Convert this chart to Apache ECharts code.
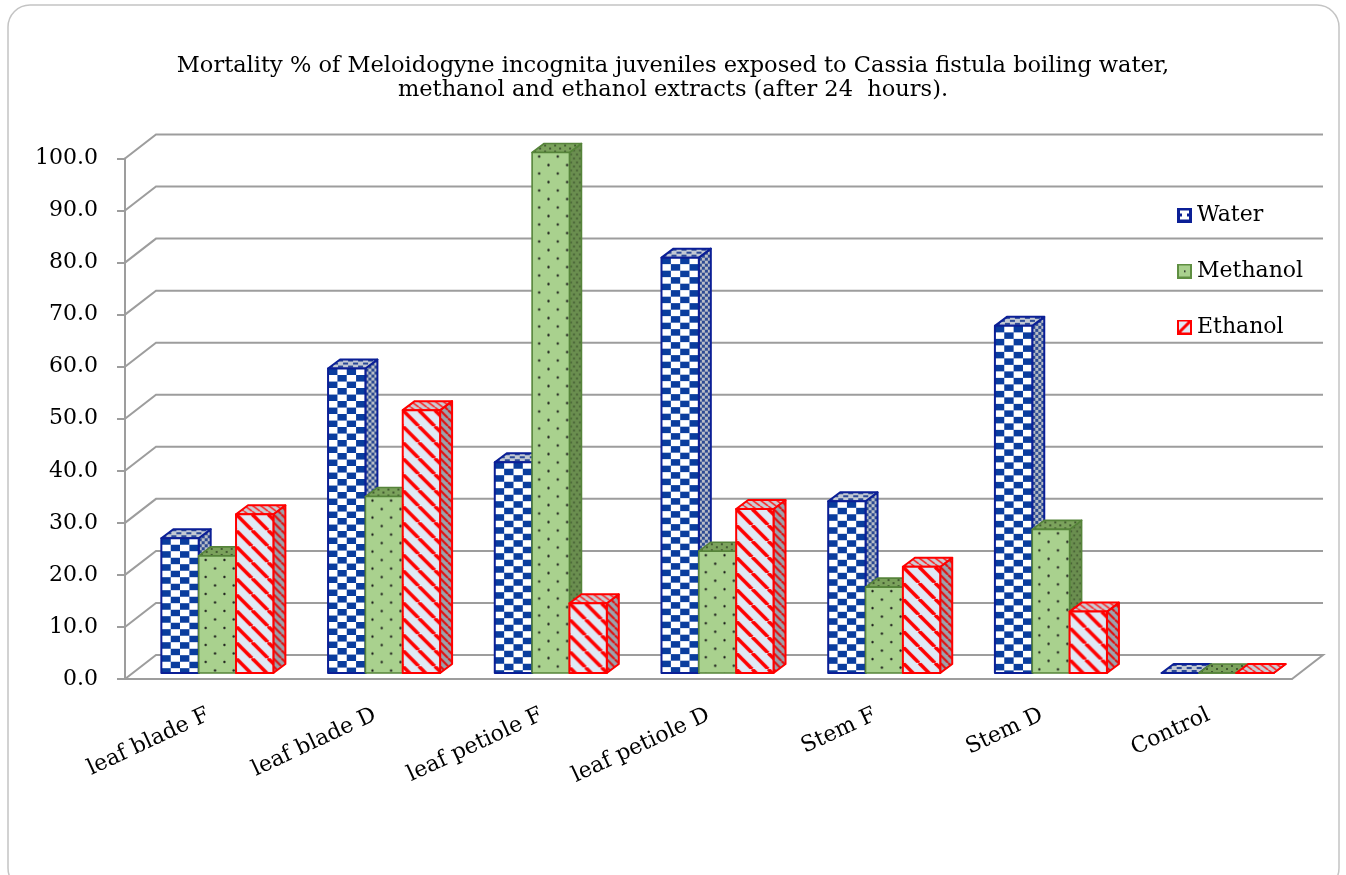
<!DOCTYPE html>
<html>
<head>
<meta charset="utf-8">
<script src="https://cdn.jsdelivr.net/npm/echarts@6/dist/echarts.min.js"></script>
<style>
  html, body { margin: 0; padding: 0; background: #ffffff; }
  #chart { width: 1346px; height: 875px; }
</style>
</head>
<body>
<div id="chart"></div>
<script>
// Mortality (%) per plant part and extract
const categories = ['leaf blade F', 'leaf blade D', 'leaf petiole F', 'leaf petiole D', 'Stem F', 'Stem D', 'Control'];
const water    = [25.9, 58.5, 40.5, 79.8, 33.0, 66.7, 0];
const methanol = [22.5, 33.9, 100.0, 23.4, 16.5, 27.6, 0];
const ethanol  = [30.5, 50.5, 13.4, 31.5, 20.4, 11.8, 0];
const seriesNames = ['Water', 'Methanol', 'Ethanol'];
const yTicks = [0, 10, 20, 30, 40, 50, 60, 70, 80, 90, 100];

// 3D look: wall depth and bar depth offsets (pixels)
const WALL_DX = 31, WALL_DY = 24;
const FRONT_DX = 9, FRONT_DY = 6;
const BAR_DX = 12, BAR_DY = 9;
const BAR_RATIO = 0.224;
const GRID_COLOR = '#9d9d9d';
const FONT = 'DejaVu Serif';

function tile(w, h, draw) {
  const c = document.createElement('canvas');
  c.width = w; c.height = h;
  const g = c.getContext('2d');
  draw(g, w, h);
  return c;
}
function stripes(g, w, h, bg, fg, lw) {
  g.fillStyle = bg; g.fillRect(0, 0, w, h);
  g.strokeStyle = fg; g.lineWidth = lw;
  for (let k = -w; k <= w; k += w) {
    g.beginPath(); g.moveTo(k, 0); g.lineTo(k + w, h); g.stroke();
  }
}
function dots(g, w, h, bg, fg, pts, r) {
  g.fillStyle = bg; g.fillRect(0, 0, w, h);
  g.fillStyle = fg;
  pts.forEach(p => { g.beginPath(); g.arc(p[0], p[1], r, 0, Math.PI * 2); g.fill(); });
}
function checker(g, w, h, a, b) {
  g.fillStyle = a; g.fillRect(0, 0, w, h);
  g.fillStyle = b;
  g.fillRect(0, 0, w / 2, h / 2);
  g.fillRect(w / 2, h / 2, w / 2, h / 2);
}

const tiles = {
  Water: {
    front: tile(20, 14, (g, w, h) => checker(g, w, h, '#ffffff', '#0a3d9e')),
    side: tile(6, 6, (g, w, h) => checker(g, w, h, '#b9bec7', '#2c4a92')),
    top: tile(10, 6, (g, w, h) => { g.fillStyle = '#c3c9d3'; g.fillRect(0, 0, w, h); g.fillStyle = '#2c4a98'; g.fillRect(0, 0, 5, 2); g.fillRect(5, 3, 5, 2); }),
    border: '#0b1f96', lw: 2
  },
  Methanol: {
    front: tile(20, 17, (g, w, h) => dots(g, w, h, '#a9d18e', '#1a1a1a', [[7.5, 4], [17.5, 12.5]], 1.2)),
    side: tile(6, 8, (g, w, h) => dots(g, w, h, '#6a8e4f', '#26351c', [[1.5, 2], [4.5, 6]], 0.8)),
    top: tile(10, 6, (g, w, h) => dots(g, w, h, '#7ba25c', '#2a3a20', [[3, 2], [8, 5]], 0.9)),
    border: '#56843a', lw: 1.6
  },
  Ethanol: {
    front: tile(16, 16, (g, w, h) => stripes(g, w, h, '#dfe9f5', '#ff0000', 3.6)),
    side: tile(8, 8, (g, w, h) => stripes(g, w, h, '#9ba3ad', '#e01010', 2.2)),
    top: tile(8, 6, (g, w, h) => stripes(g, w, h, '#c9ced6', '#ff2020', 1.6)),
    border: '#ff0000', lw: 2
  }
};

function pat(canvas, x, y, sx, sy) {
  return { image: canvas, repeat: 'repeat', x: x, y: y, scaleX: sx || 1, scaleY: sy || 1 };
}

function barRenderer(name, sIdx) {
  const t = tiles[name];
  return function (params, api) {
    const i = api.value(0), v = api.value(1);
    const base = api.coord([i, 0]);
    const topPt = api.coord([i, v]);
    const band = api.size([1, 0])[0];
    const bw = band * BAR_RATIO;
    const x0 = base[0] - 1.5 * bw + sIdx * bw + FRONT_DX;
    const x1 = x0 + bw;
    const yb = base[1] - FRONT_DY;
    const yt = topPt[1] - FRONT_DY;
    let frontFill;
    if (name === 'Water') frontFill = pat(t.front, x0, yt, (bw / 4) / 10, 6.5 / 7);
    else if (name === 'Methanol') frontFill = pat(t.front, x0, yt, bw / 40, 1);
    else frontFill = pat(t.front, x0, yt, 1, 1);
    const stroke = { stroke: t.border, lineWidth: t.lw, lineJoin: 'round' };
    return {
      type: 'group',
      children: [
        { type: 'polygon', shape: { points: [[x1, yt], [x1 + BAR_DX, yt - BAR_DY], [x1 + BAR_DX, yb - BAR_DY], [x1, yb]] },
          style: Object.assign({ fill: pat(t.side, x1, yt) }, stroke) },
        { type: 'polygon', shape: { points: [[x0, yt], [x1, yt], [x1 + BAR_DX, yt - BAR_DY], [x0 + BAR_DX, yt - BAR_DY]] },
          style: Object.assign({ fill: pat(t.top, x0, yt - BAR_DY) }, stroke) },
        { type: 'polygon', shape: { points: [[x0, yt], [x1, yt], [x1, yb], [x0, yb]] },
          style: Object.assign({ fill: frontFill }, stroke) }
      ]
    };
  };
}

// Side and back walls with gridlines, plus the floor outline
function wallRenderer(params, api) {
  const v = api.value(1);
  const y = api.coord([0, v])[1];
  const cs = params.coordSys;
  const xl = cs.x, xr = cs.x + cs.width;
  const pts = [[xl, y], [xl + WALL_DX, y - WALL_DY], [xr + WALL_DX, y - WALL_DY]];
  if (v === 0) pts.push([xr, y]);
  return {
    type: 'polyline',
    shape: { points: pts },
    style: { stroke: GRID_COLOR, lineWidth: 2, fill: 'none' }
  };
}

function legendIcon(name) {
  const c = tile(15, 15, (g) => {
    if (name === 'Water') {
      g.fillStyle = '#0b1f96'; g.fillRect(0, 0, 15, 15);
      g.fillStyle = '#ffffff'; g.fillRect(3, 3, 9, 3); g.fillRect(5, 6, 5, 3); g.fillRect(3, 9, 9, 3);
    } else if (name === 'Methanol') {
      g.fillStyle = '#5f8f42'; g.fillRect(0, 0, 15, 15);
      g.fillStyle = '#a9d18e'; g.fillRect(2, 2, 11, 11);
      g.fillStyle = '#111'; g.fillRect(7, 7, 1.5, 1.5);
    } else {
      g.fillStyle = '#ff0000'; g.fillRect(0, 0, 15, 15);
      g.fillStyle = '#dfe9f5'; g.fillRect(2, 2, 11, 11);
      g.strokeStyle = '#ff0000'; g.lineWidth = 3;
      g.beginPath(); g.moveTo(2, 13); g.lineTo(13, 2); g.stroke();
    }
  });
  return 'image://' + c.toDataURL();
}

const seriesData = [water, methanol, ethanol];
const chart = echarts.init(document.getElementById('chart'), null, { renderer: 'canvas' });

const option = {
  backgroundColor: '#ffffff',
  animation: false,
  title: {
    text: 'Mortality % of Meloidogyne incognita juveniles exposed to Cassia fistula boiling water,\nmethanol and ethanol extracts (after 24  hours).',
    left: 'center',
    top: 49,
    textStyle: { fontFamily: FONT, fontSize: 22.5, fontWeight: 'normal', color: '#000', lineHeight: 24 }
  },
  legend: {
    orient: 'vertical',
    left: 1172,
    top: 199,
    itemWidth: 15,
    itemHeight: 15,
    itemGap: 34,
    data: seriesNames.map(n => ({ name: n, icon: legendIcon(n) })),
    textStyle: { fontFamily: FONT, fontSize: 22, color: '#000', lineHeight: 22 }
  },
  graphic: [{
    type: 'rect',
    shape: { x: 8, y: 5, width: 1331, height: 885, r: 22 },
    style: { fill: 'none', stroke: '#c4c4c4', lineWidth: 1.5 },
    silent: true
  }],
  grid: { left: 125, right: 54, top: 158.5, bottom: 196 },
  xAxis: {
    type: 'category',
    data: categories,
    axisLine: { show: true, lineStyle: { color: GRID_COLOR, width: 2 } },
    axisTick: { show: false },
    axisLabel: { rotate: 25, margin: 35, fontFamily: FONT, fontSize: 22, color: '#000', interval: 0 },
    splitLine: { show: false }
  },
  yAxis: {
    type: 'value',
    min: 0, max: 100, interval: 10,
    axisLine: { show: true, lineStyle: { color: GRID_COLOR, width: 2 } },
    axisTick: { show: true, length: 8, lineStyle: { color: GRID_COLOR, width: 2 } },
    axisLabel: { margin: 27, fontFamily: FONT, fontSize: 22, color: '#000', formatter: v => v.toFixed(1) },
    splitLine: { show: false }
  },
  series: [
    {
      type: 'custom', name: 'walls', silent: true, z: 1,
      renderItem: wallRenderer,
      data: yTicks.map(t => [0, t])
    }
  ].concat(seriesNames.map((n, s) => ({
    type: 'custom',
    name: n,
    z: 2 + s,
    renderItem: barRenderer(n, s),
    itemStyle: { color: n === 'Water' ? '#0a3d9e' : (n === 'Methanol' ? '#a9d18e' : '#ff0000') },
    data: seriesData[s].map((v, i) => [i, v])
  })))
};
chart.setOption(option);
</script>
</body>
</html>
